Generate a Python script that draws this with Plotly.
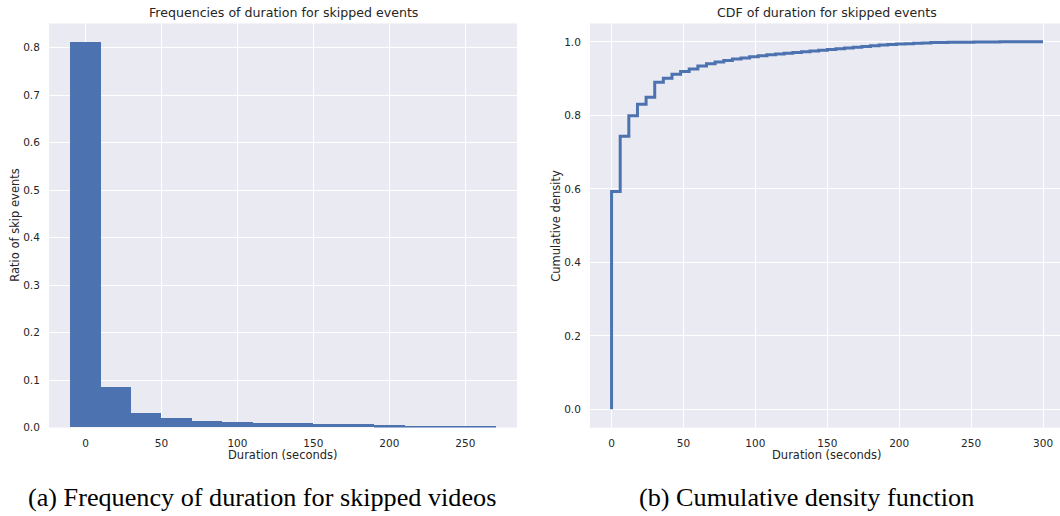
import plotly.graph_objects as go

# ---- data ----
bin_left = [-10, 10, 30, 50, 70, 90, 110, 130, 150, 170, 190, 210, 230, 250]
bin_width = 20
hist_ratio = [0.811, 0.085, 0.029, 0.020, 0.013, 0.010, 0.0076, 0.0076,
              0.0055, 0.0055, 0.0034, 0.0013, 0.0013, 0.0013]

cdf_x = [0, 0, 6, 12, 18, 24, 30, 36, 42, 48, 54, 60, 66, 72, 78, 84, 90, 96,
         102, 108, 114, 120, 126, 132, 138, 144, 150, 156, 162, 168, 174, 180,
         186, 192, 198, 204, 210, 216, 222, 228, 234, 240, 246, 252, 258, 264,
         270, 276, 282, 288, 294, 300]
cdf_y = [0.0, 0.593, 0.743, 0.799, 0.830, 0.849, 0.890, 0.901, 0.912, 0.919,
         0.926, 0.934, 0.940, 0.945, 0.949, 0.953, 0.956, 0.959, 0.962, 0.965,
         0.967, 0.969, 0.971, 0.973, 0.975, 0.977, 0.979, 0.981, 0.983, 0.985,
         0.987, 0.989, 0.991, 0.993, 0.994, 0.995, 0.996, 0.997, 0.998, 0.998,
         0.999, 0.999, 0.999, 0.9995, 0.9997, 0.9998, 0.9999, 1.0, 1.0, 1.0,
         1.0, 1.0]

x_ticks_left = [0, 50, 100, 150, 200, 250]
y_ticks_left = [0.0, 0.1, 0.2, 0.3, 0.4, 0.5, 0.6, 0.7, 0.8]
x_ticks_right = [0, 50, 100, 150, 200, 250, 300]
y_ticks_right = [0.0, 0.2, 0.4, 0.6, 0.8, 1.0]

titles = ["Frequencies of duration for skipped events", "CDF of duration for skipped events"]
captions = ["(a) Frequency of duration for skipped videos", "(b) Cumulative density function"]

# ---- style ----
W, H = 1060, 516
BLUE = "#4C72B0"
BG = "#EAEAF2"
TXT = "#262626"
FONT = "DejaVu Sans"

def px(x):
    return x / W

def py(y):
    y = (y - 0.6) / 0.987
    return 1 - y / H

fig = go.Figure()
fig.add_trace(go.Bar(
    x=[b + bin_width / 2 for b in bin_left], y=hist_ratio, width=bin_width,
    marker=dict(color=BLUE, line=dict(width=0)), xaxis="x", yaxis="y",
    showlegend=False))
fig.add_trace(go.Scatter(
    x=cdf_x, y=cdf_y, mode="lines", line=dict(color=BLUE, width=3, shape="hv"),
    xaxis="x2", yaxis="y2", showlegend=False))

axis_common = dict(showgrid=True, gridcolor="white", gridwidth=1.2, zeroline=False,
                   showline=False, ticks="outside", tickcolor="rgba(0,0,0,0)",
                   tickfont=dict(family=FONT, size=10.5, color=TXT))

fig.update_layout(
    width=W, height=H, margin=dict(l=0, r=0, t=0, b=0),
    paper_bgcolor="white", plot_bgcolor=BG, bargap=0,
    xaxis=dict(domain=[px(49), px(517)], range=[-24, 284], tickvals=x_ticks_left,
               ticklen=6, anchor="y", **axis_common),
    yaxis=dict(domain=[py(427.5), py(24)], range=[0, 0.851], tickvals=y_ticks_left,
               tickformat=".1f", ticklen=6, anchor="x", **axis_common),
    xaxis2=dict(domain=[px(590), 1.0], range=[-15, 311.8], tickvals=x_ticks_right,
                ticklen=6, anchor="y2", **axis_common),
    yaxis2=dict(domain=[py(427.7), py(24)], range=[-0.05, 1.05], tickvals=y_ticks_right,
                tickformat=".1f", ticklen=6, anchor="x2", **axis_common),
)

ann = []
# titles
ann.append(dict(x=px(283), y=py(13), text=titles[0], font_size=12.6))
ann.append(dict(x=px(827), y=py(13), text=titles[1], font_size=12.6))
# x axis labels
ann.append(dict(x=px(283), y=py(455), text="Duration (seconds)"))
ann.append(dict(x=px(827), y=py(455), text="Duration (seconds)"))
# y axis labels
ann.append(dict(x=px(15), y=py(226), text="Ratio of skip events", textangle=-90))
ann.append(dict(x=px(556), y=py(226), text="Cumulative density", textangle=-90))
for a in ann:
    size = a.pop("font_size", 11.5)
    a.update(xref="paper", yref="paper", showarrow=False, xanchor="center",
             yanchor="middle", font=dict(family=FONT, size=size, color=TXT))
for cx, cap in zip([262, 806], captions):
    ann.append(dict(x=px(cx), y=py(497), text=cap, xref="paper", yref="paper",
                    showarrow=False, xanchor="center", yanchor="middle",
                    font=dict(family="Liberation Serif", size=26.2, color="black")))
fig.update_layout(annotations=ann)

fig.write_html("out.html")
